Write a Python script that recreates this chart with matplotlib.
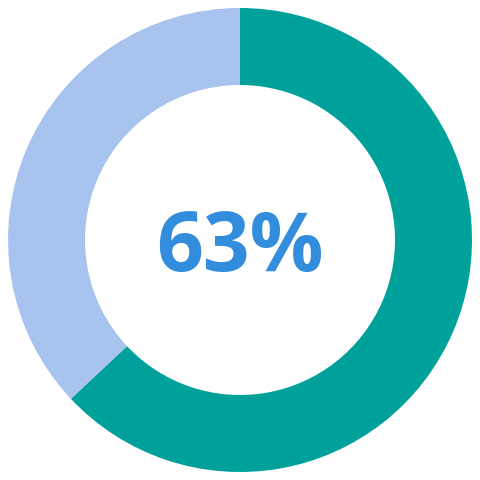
import matplotlib.pyplot as plt

labels = ['done', 'rest']
values = [63, 37]
colors = ['#00A19A', '#A8C4EE']
center_text = '63%'

fig = plt.figure(figsize=(4.8, 4.8), dpi=100)
ax = fig.add_axes([0, 0, 1, 1])
ax.pie(values, colors=colors, startangle=90, counterclock=False,
       radius=232 / 240, wedgeprops=dict(width=77 / 240, linewidth=0))
ax.text(0, 0, center_text, ha='center', va='center_baseline', fontsize=59,
        fontweight='bold', family='Open Sans', color='#338DDD')
ax.set_xlim(-1, 1)
ax.set_ylim(-1, 1)
ax.set_aspect('equal')
ax.axis('off')
fig.savefig('out.png', dpi=100)
